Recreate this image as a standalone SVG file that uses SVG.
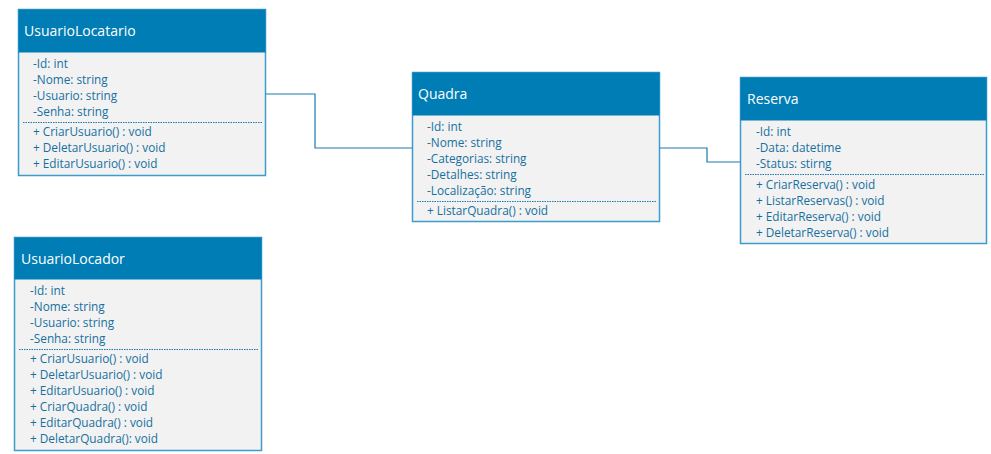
<svg xmlns="http://www.w3.org/2000/svg" width="991" height="454" viewBox="0 0 991 454">
<style>
.body{fill:#f2f2f2;stroke:#3d9ccc;stroke-width:1.5}
.head{fill:#007db5}
.title{font-family:"Open Sans","Liberation Sans",sans-serif;font-size:14px;fill:#ffffff}
.t{font-family:"Open Sans","Liberation Sans",sans-serif;font-size:11.8px;fill:#16709f}
.dot{stroke:#1a7aad;stroke-width:1;stroke-dasharray:1.5 1}
.conn{fill:none;stroke:#1a7aad;stroke-width:1.2}
</style>
<rect width="991" height="454" fill="#ffffff"/>
<g id="connectors">
<polyline class="conn" points="266,94 315,94 315,148 412,148"/>
<polyline class="conn" points="659,148 707,148 707,162 741,162"/>
</g>
<g id="UsuarioLocatario">
<rect class="body" x="18.5" y="9.5" width="247" height="166"/>
<rect class="head" x="18.5" y="9.5" width="247" height="43"/>
<text class="title" x="24" y="36">UsuarioLocatario</text>
<text class="t" x="33" y="68">-Id: int</text>
<text class="t" x="33" y="84">-Nome: string</text>
<text class="t" x="33" y="100">-Usuario: string</text>
<text class="t" x="33" y="116">-Senha: string</text>
<line class="dot" x1="23" y1="122.5" x2="262" y2="122.5"/>
<text class="t" x="33" y="136">+ CriarUsuario() : void</text>
<text class="t" x="33" y="152">+ DeletarUsuario() : void</text>
<text class="t" x="33" y="168">+ EditarUsuario() : void</text>
</g>
<g id="Quadra">
<rect class="body" x="412.5" y="72.5" width="247" height="149"/>
<rect class="head" x="412.5" y="72.5" width="247" height="43"/>
<text class="title" x="418" y="99">Quadra</text>
<text class="t" x="427" y="131">-Id: int</text>
<text class="t" x="427" y="147">-Nome: string</text>
<text class="t" x="427" y="163">-Categorias: string</text>
<text class="t" x="427" y="179">-Detalhes: string</text>
<text class="t" x="427" y="195">-Localização: string</text>
<line class="dot" x1="417" y1="201.5" x2="656" y2="201.5"/>
<text class="t" x="427" y="215">+ ListarQuadra() : void</text>
</g>
<g id="Reserva">
<rect class="body" x="740.5" y="77.5" width="246" height="166"/>
<rect class="head" x="740.5" y="77.5" width="246" height="43"/>
<text class="title" x="747" y="104">Reserva</text>
<text class="t" x="756" y="136">-Id: int</text>
<text class="t" x="756" y="152">-Data: datetime</text>
<text class="t" x="756" y="168">-Status: stirng</text>
<line class="dot" x1="745" y1="174.5" x2="984" y2="174.5"/>
<text class="t" x="756" y="189">+ CriarReserva() : void</text>
<text class="t" x="756" y="205">+ ListarReservas() : void</text>
<text class="t" x="756" y="221">+ EditarReserva() : void</text>
<text class="t" x="756" y="237">+ DeletarReserva() : void</text>
</g>
<g id="UsuarioLocador">
<rect class="body" x="14.5" y="237.5" width="247" height="213"/>
<rect class="head" x="14.5" y="237.5" width="247" height="42"/>
<text class="title" x="21" y="264">UsuarioLocador</text>
<text class="t" x="30" y="295">-Id: int</text>
<text class="t" x="30" y="311">-Nome: string</text>
<text class="t" x="30" y="327">-Usuario: string</text>
<text class="t" x="30" y="343">-Senha: string</text>
<line class="dot" x1="19" y1="349.5" x2="258" y2="349.5"/>
<text class="t" x="30" y="363">+ CriarUsuario() : void</text>
<text class="t" x="30" y="379">+ DeletarUsuario() : void</text>
<text class="t" x="30" y="395">+ EditarUsuario() : void</text>
<text class="t" x="30" y="411">+ CriarQuadra() : void</text>
<text class="t" x="30" y="427">+ EditarQuadra() : void</text>
<text class="t" x="30" y="443">+ DeletarQuadra(): void</text>
</g>
</svg>
